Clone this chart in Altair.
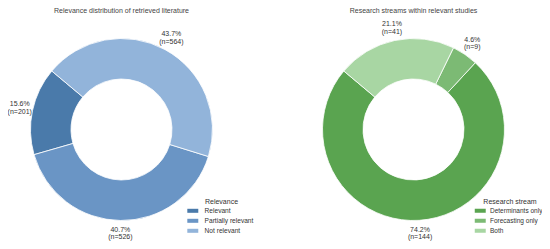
import math
import altair as alt
import pandas as pd

# ---- data ----
rel_title = "Relevance distribution of retrieved literature"
rel_cats = ["Relevant", "Partially relevant", "Not relevant"]
rel_counts = [201, 526, 564]
rel_pcts = [15.6, 40.7, 43.7]
rel_colors = ["#4a7aaa", "#6a95c5", "#92b4da"]

str_title = "Research streams within relevant studies"
str_cats = ["Determinants only", "Forecasting only", "Both"]
str_counts = [144, 9, 41]
str_pcts = [74.2, 4.6, 21.1]
str_colors = ["#5aa450", "#7cba74", "#a8d6a3"]

FONT = "Liberation Sans"
TXT = "#333333"
START = -50 * math.pi / 180  # matplotlib startangle=140, counter-clockwise order
SYMBOL = "M-1.83,-0.67L1.83,-0.67L1.83,0.67L-1.83,0.67Z"


def frame(cats, counts, pcts):
    n = len(cats)
    return pd.DataFrame({
        "category": cats,
        "n": counts,
        "label": [f"{p:.1f}%\n(n={c})" for p, c in zip(pcts, counts)],
        "ord": [n - 1 - i for i in range(n)],
    })


def donut(df, cx, cy, colors, legend_title, legend_x, legend_y, label_offset,
          label_size):
    theta = alt.Theta("n:Q", stack=True,
                      scale=alt.Scale(range=[START, START + 2 * math.pi]))
    base = alt.Chart(df).encode(
        theta=theta,
        order=alt.Order("ord:Q", sort="ascending"),
        x=alt.value(cx),
        y=alt.value(cy),
    )
    arc = base.mark_arc(radius=91, radius2=50.5, stroke="white",
                        strokeWidth=0.8).encode(
        color=alt.Color(
            "category:N",
            scale=alt.Scale(domain=list(df["category"]), range=colors),
            sort=list(df["category"]),
            legend=alt.Legend(
                title=legend_title, orient="none",
                legendX=legend_x, legendY=legend_y,
                titleAnchor="middle", titleFontSize=7, titleFontWeight="normal",
                titleFont=FONT, titleColor=TXT, titlePadding=3,
                labelFont=FONT, labelFontSize=label_size, labelColor=TXT,
                labelOffset=label_offset, rowPadding=3, padding=0,
                symbolType=SYMBOL,
                symbolSize=36, symbolStrokeWidth=0, symbolOpacity=1,
            ),
        )
    )
    text = base.mark_text(radius=104, font=FONT, fontSize=7, color=TXT,
                          fill=TXT, lineBreak="\n", lineHeight=7.5, dy=-3.75,
                          align="center", baseline="middle").encode(
        text="label:N")
    return alt.layer(arc, text)


left = donut(frame(rel_cats, rel_counts, rel_pcts), 113.5, 121.5,
             rel_colors, "Relevance", 181.5, 189.5, 8.5, 6.6)
right = donut(frame(str_cats, str_counts, str_pcts), 405.5, 121.5,
              str_colors, "Research stream", 469, 189.5, 6.5, 6.5)


def title_text(t, cx):
    return alt.Chart(alt.Data(values=[{"t": t}])).mark_text(
        font=FONT, fontSize=7, color="#444444", align="center",
        baseline="middle").encode(text="t:N", x=alt.value(cx), y=alt.value(2.5))


chart = alt.layer(
    left, right, title_text(rel_title, 113.5), title_text(str_title, 405.5)
).resolve_scale(theta="independent", color="independent").properties(
    width=534, height=233, padding=0,
    autosize=alt.AutoSizeParams(type="none"),
).configure_view(stroke=None)

chart.save("out.html", embed_options={"renderer": "svg", "actions": False})
